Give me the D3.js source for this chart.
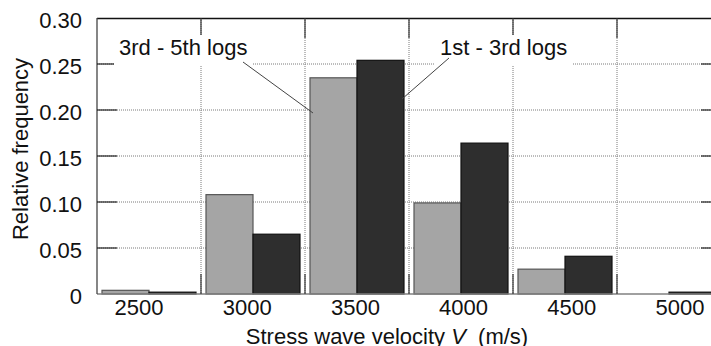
<!DOCTYPE html>
<html>
<head>
<meta charset="utf-8">
<script src="https://cdn.jsdelivr.net/npm/d3@7"></script>
<style>
  body { margin: 0; background: #fff; }
  svg { display: block; font-family: Arial, "Liberation Sans", sans-serif; }
</style>
</head>
<body>
<svg id="chart" width="711" height="346"></svg>
<script>
// chart data
var categories = ['2500', '3000', '3500', '4000', '4500', '5000'];
var seriesNames = ['3rd - 5th logs', '1st - 3rd logs'];
var logs35 = [0.004, 0.108, 0.235, 0.099, 0.027, 0.0];
var logs13 = [0.002, 0.065, 0.254, 0.164, 0.041, 0.002];
var yTicks = [0, 0.05, 0.10, 0.15, 0.20, 0.25, 0.30];

var svg = d3.select('#chart');
var plotLeft = 97, plotRight = 721, plotTop = 18, plotBottom = 294;
var tickLen = 20;
var fontSize = '22px';

var x = d3.scaleBand().domain(categories).range([plotLeft, plotRight]).paddingInner(0).paddingOuter(0);
var inner = d3.scaleBand().domain(seriesNames).range([5, x.bandwidth() - 5]);
var y = d3.scaleLinear().domain([0, 0.30]).range([plotBottom, plotTop]);
// tick labels sit a little off the bin centres in the original
var labelX = d3.scalePoint().domain(categories).range([139, 680]);

var fills = ['#a5a5a5', '#2e2e2e'];
var strokes = ['#555555', '#111111'];

var grid = svg.append('g').attr('class', 'grid');
// horizontal dotted grid
grid.selectAll('.hgrid')
    .data(yTicks.slice(1, -1))
    .enter()
    .append('line')
    .attr('x1', plotLeft).attr('x2', plotRight)
    .attr('y1', function (d) { return y(d); })
    .attr('y2', function (d) { return y(d); })
    .style('stroke', '#7a7a7a')
    .style('stroke-dasharray', '1,1');
// vertical dotted grid at bin edges
grid.selectAll('.vgrid')
    .data(categories.slice(1))
    .enter()
    .append('line')
    .attr('x1', function (d) { return x(d); })
    .attr('x2', function (d) { return x(d); })
    .attr('y1', plotTop).attr('y2', plotBottom)
    .style('stroke', '#7a7a7a')
    .style('stroke-dasharray', '1,1');

// bars
var rows = categories.map(function (c, i) {
    return { cat: c, values: [logs35[i], logs13[i]] };
});
var bins = svg.selectAll('.bin')
    .data(rows)
    .enter()
    .append('g')
    .attr('class', 'bin')
    .attr('transform', function (d) { return 'translate(' + x(d.cat) + ',0)'; });
bins.selectAll('rect')
    .data(function (d) {
        return d.values.map(function (v, k) { return { v: v, k: k }; })
            .filter(function (e) { return e.v > 0; });
    })
    .enter()
    .append('rect')
    .attr('x', function (d) { return inner(seriesNames[d.k]); })
    .attr('width', inner.bandwidth())
    .attr('y', function (d) { return y(d.v); })
    .attr('height', function (d) { return plotBottom - y(d.v); })
    .style('fill', function (d) { return fills[d.k]; })
    .style('stroke', function (d) { return strokes[d.k]; })
    .style('stroke-width', 1.2);

// frame
var frame = svg.append('g');
frame.append('line').attr('x1', plotLeft).attr('x2', plotRight).attr('y1', plotTop + 0.5).attr('y2', plotTop + 0.5)
    .style('stroke', '#111').style('stroke-width', 1.5);
frame.append('line').attr('x1', plotLeft).attr('x2', plotRight).attr('y1', plotBottom).attr('y2', plotBottom)
    .style('stroke', '#808080').style('stroke-width', 1.5);
frame.append('line').attr('x1', plotLeft).attr('x2', plotLeft).attr('y1', plotTop).attr('y2', plotBottom)
    .style('stroke', '#444').style('stroke-width', 1.3);

// inward ticks
frame.selectAll('.ytickL')
    .data(yTicks.slice(1, -1))
    .enter()
    .append('line')
    .attr('x1', plotLeft).attr('x2', plotLeft + tickLen)
    .attr('y1', function (d) { return y(d); })
    .attr('y2', function (d) { return y(d); })
    .style('stroke', '#222').style('stroke-width', 1.2);
frame.selectAll('.ytickR')
    .data(yTicks.slice(1, -1))
    .enter()
    .append('line')
    .attr('x1', plotRight - tickLen).attr('x2', plotRight)
    .attr('y1', function (d) { return y(d); })
    .attr('y2', function (d) { return y(d); })
    .style('stroke', '#222').style('stroke-width', 1.2);
frame.selectAll('.xtickT')
    .data(categories.slice(1))
    .enter()
    .append('line')
    .attr('x1', function (d) { return x(d); })
    .attr('x2', function (d) { return x(d); })
    .attr('y1', plotTop).attr('y2', plotTop + tickLen)
    .style('stroke', '#333').style('stroke-width', 1.2);
frame.selectAll('.xtickB')
    .data(categories.slice(1))
    .enter()
    .append('line')
    .attr('x1', function (d) { return x(d); })
    .attr('x2', function (d) { return x(d); })
    .attr('y1', plotBottom - tickLen).attr('y2', plotBottom)
    .style('stroke', '#333').style('stroke-width', 1.2);

// tick labels
svg.selectAll('.ylab')
    .data(yTicks)
    .enter()
    .append('text')
    .attr('x', 82)
    .attr('y', function (d) { return y(d) + 10; })
    .attr('text-anchor', 'end')
    .style('font-size', fontSize)
    .style('fill', '#111')
    .text(function (d) { return d === 0 ? '0' : d3.format('.2f')(d); });
svg.selectAll('.xlab')
    .data(categories)
    .enter()
    .append('text')
    .attr('x', function (d) { return labelX(d); })
    .attr('y', 315)
    .attr('text-anchor', 'middle')
    .style('font-size', fontSize)
    .style('fill', '#111')
    .text(function (d) { return d; });

// axis titles
var xt = svg.append('text')
    .attr('x', 387).attr('y', 344)
    .attr('text-anchor', 'middle')
    .style('font-size', fontSize)
    .style('fill', '#111');
xt.append('tspan').text('Stress wave velocity ');
xt.append('tspan').style('font-style', 'italic').text('V');
xt.append('tspan').text('\u00a0 (m/s)');

svg.append('text')
    .attr('transform', 'translate(28,149) rotate(-90)')
    .attr('text-anchor', 'middle')
    .style('font-size', fontSize)
    .style('fill', '#111')
    .text('Relative frequency');

// annotations
var notes = [
    { text: seriesNames[0], tx: 119, box: [114, 35, 139, 30], from: [243, 62], to: [313, 113] },
    { text: seriesNames[1], tx: 440, box: [435, 35, 137, 30], from: [449, 58], to: [402, 99] }
];
var ann = svg.selectAll('.note')
    .data(notes)
    .enter()
    .append('g')
    .attr('class', 'note');
ann.append('rect')
    .attr('x', function (d) { return d.box[0]; })
    .attr('y', function (d) { return d.box[1]; })
    .attr('width', function (d) { return d.box[2]; })
    .attr('height', function (d) { return d.box[3]; })
    .style('fill', '#fff');
ann.append('text')
    .attr('x', function (d) { return d.tx; })
    .attr('y', 55)
    .style('font-size', fontSize)
    .style('fill', '#111')
    .text(function (d) { return d.text; });
ann.append('line')
    .attr('x1', function (d) { return d.from[0]; })
    .attr('y1', function (d) { return d.from[1]; })
    .attr('x2', function (d) { return d.to[0]; })
    .attr('y2', function (d) { return d.to[1]; })
    .style('stroke', '#444')
    .style('stroke-width', 1);
</script>
</body>
</html>
